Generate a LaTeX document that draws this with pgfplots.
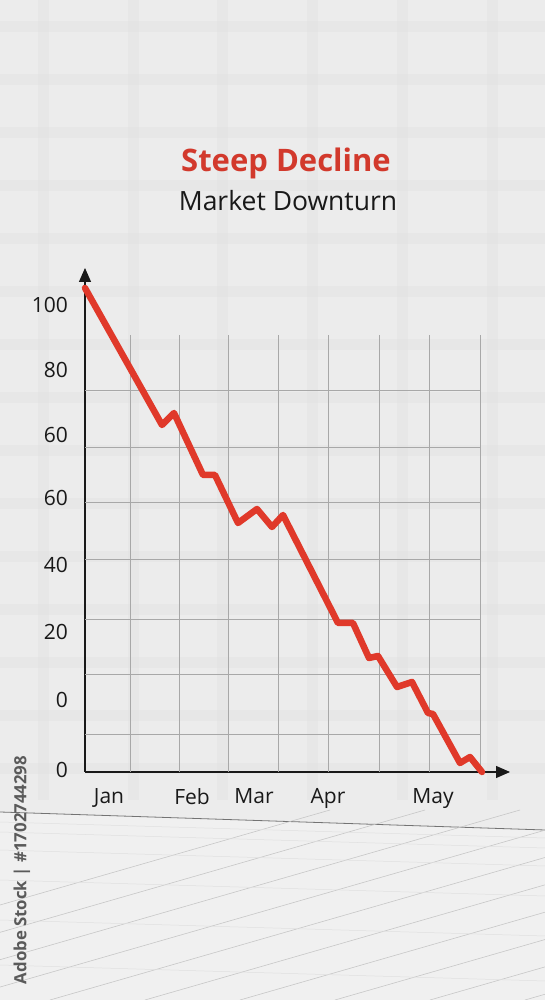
\documentclass[border=0pt]{standalone}
\usepackage{fontspec}
\setmainfont{Open Sans}
\usepackage{pgfplots}
\pgfplotsset{compat=1.18}
\usetikzlibrary{arrows.meta}

\definecolor{bgcol}{HTML}{ECECEC}
\definecolor{floorcol}{HTML}{F0F0F0}
\definecolor{bandcol}{HTML}{E0E0E0}
\definecolor{gridcol}{HTML}{A8A8A8}
\definecolor{linered}{HTML}{E0392A}
\definecolor{titlered}{HTML}{D2392C}
\definecolor{wmark}{HTML}{5A5A5A}

\begin{document}
\begin{tikzpicture}[x=1pt,y=1pt]
\clip (0,0) rectangle (545,1000);

% page background with soft blurred grid
\fill[bgcol] (0,0) rectangle (545,1000);
\fill[floorcol] (0,0) -- (0,188) -- (545,170) -- (545,0) -- cycle;
\foreach \gx in {43,133,222,312,402,492}
  \draw[bandcol, line width=11pt, opacity=0.35] (\gx,200) -- (\gx,1000);
\foreach \gy in {27,80,133,186,239,292,345,398,451,504,557,610,663,716,769}
  \draw[bandcol, line width=11pt, opacity=0.35] (0,1000-\gy) -- (545,1000-\gy);

% floor
\draw[black!55, line width=0.8pt] (0,188) -- (545,170);
\foreach \k in {0,...,9}
  \draw[black!22, line width=0.6pt] ({\k*95-330},0) -- ({\k*95+330},190);
\foreach \fy in {178,168,150,120,80,35}
  \draw[black!12, line width=0.5pt] (0,\fy) -- (545,\fy-16);

% titles
\node[anchor=base, font=\fontsize{31}{36}\selectfont\bfseries, text=titlered]
  at (286,828) {Steep Decline};
\node[anchor=base, font=\fontsize{26.5}{31}\selectfont, text=black!90]
  at (288,789) {Market Downturn};

% watermark strip
\node[rotate=90, font=\fontsize{16.8}{20}\selectfont\bfseries, text=wmark]
  at (22,130) {Adobe Stock | \#1702744298};

\begin{axis}[
  at={(85pt,228pt)}, anchor=south west,
  scale only axis, width=425pt, height=504pt,
  xmin=0, xmax=425, ymin=0, ymax=504,
  axis x line=bottom, axis y line=left,
  axis line style={line width=1.3pt, black!90,
    -{Triangle[length=14pt,width=12pt]}},
  xtick={24,107,169,243,348},
  xticklabels={Jan,Feb,Mar,Apr,May},
  ytick={2,72,140,207,274,337,402,467},
  yticklabels={0,0,20,40,60,60,80,100},
  major tick length=0pt,
  tick label style={font=\fontsize{21}{24}\selectfont, text=black!90},
  yticklabel style={anchor=east, inner sep=0pt, xshift=-17pt},
  xticklabel style={anchor=north, inner sep=0pt, yshift=-16pt},
  clip=false,
]

% chart grid (vertical lines stop below the top of the axis)
\pgfplotsinvokeforeach{45,94,143,193,243,294,344,395}{
  \draw[gridcol, line width=0.9pt] (axis cs:#1,0) -- (axis cs:#1,437);
}
\pgfplotsinvokeforeach{38,98,153,213,270,325,382}{
  \draw[gridcol, line width=0.9pt] (axis cs:0,#1) -- (axis cs:395,#1);
}

\addplot[linered, line width=6.5pt, line join=round, line cap=round]
  table {
x   y
0   484
77  347
89  359
118 297
130 297
153 249
172 263
187 245
198 257
253 149
268 149
284 114
293 116
312 85
327 90
343 59
348 58
375 9
385 15
397 0
};

\end{axis}
\end{tikzpicture}
\end{document}
